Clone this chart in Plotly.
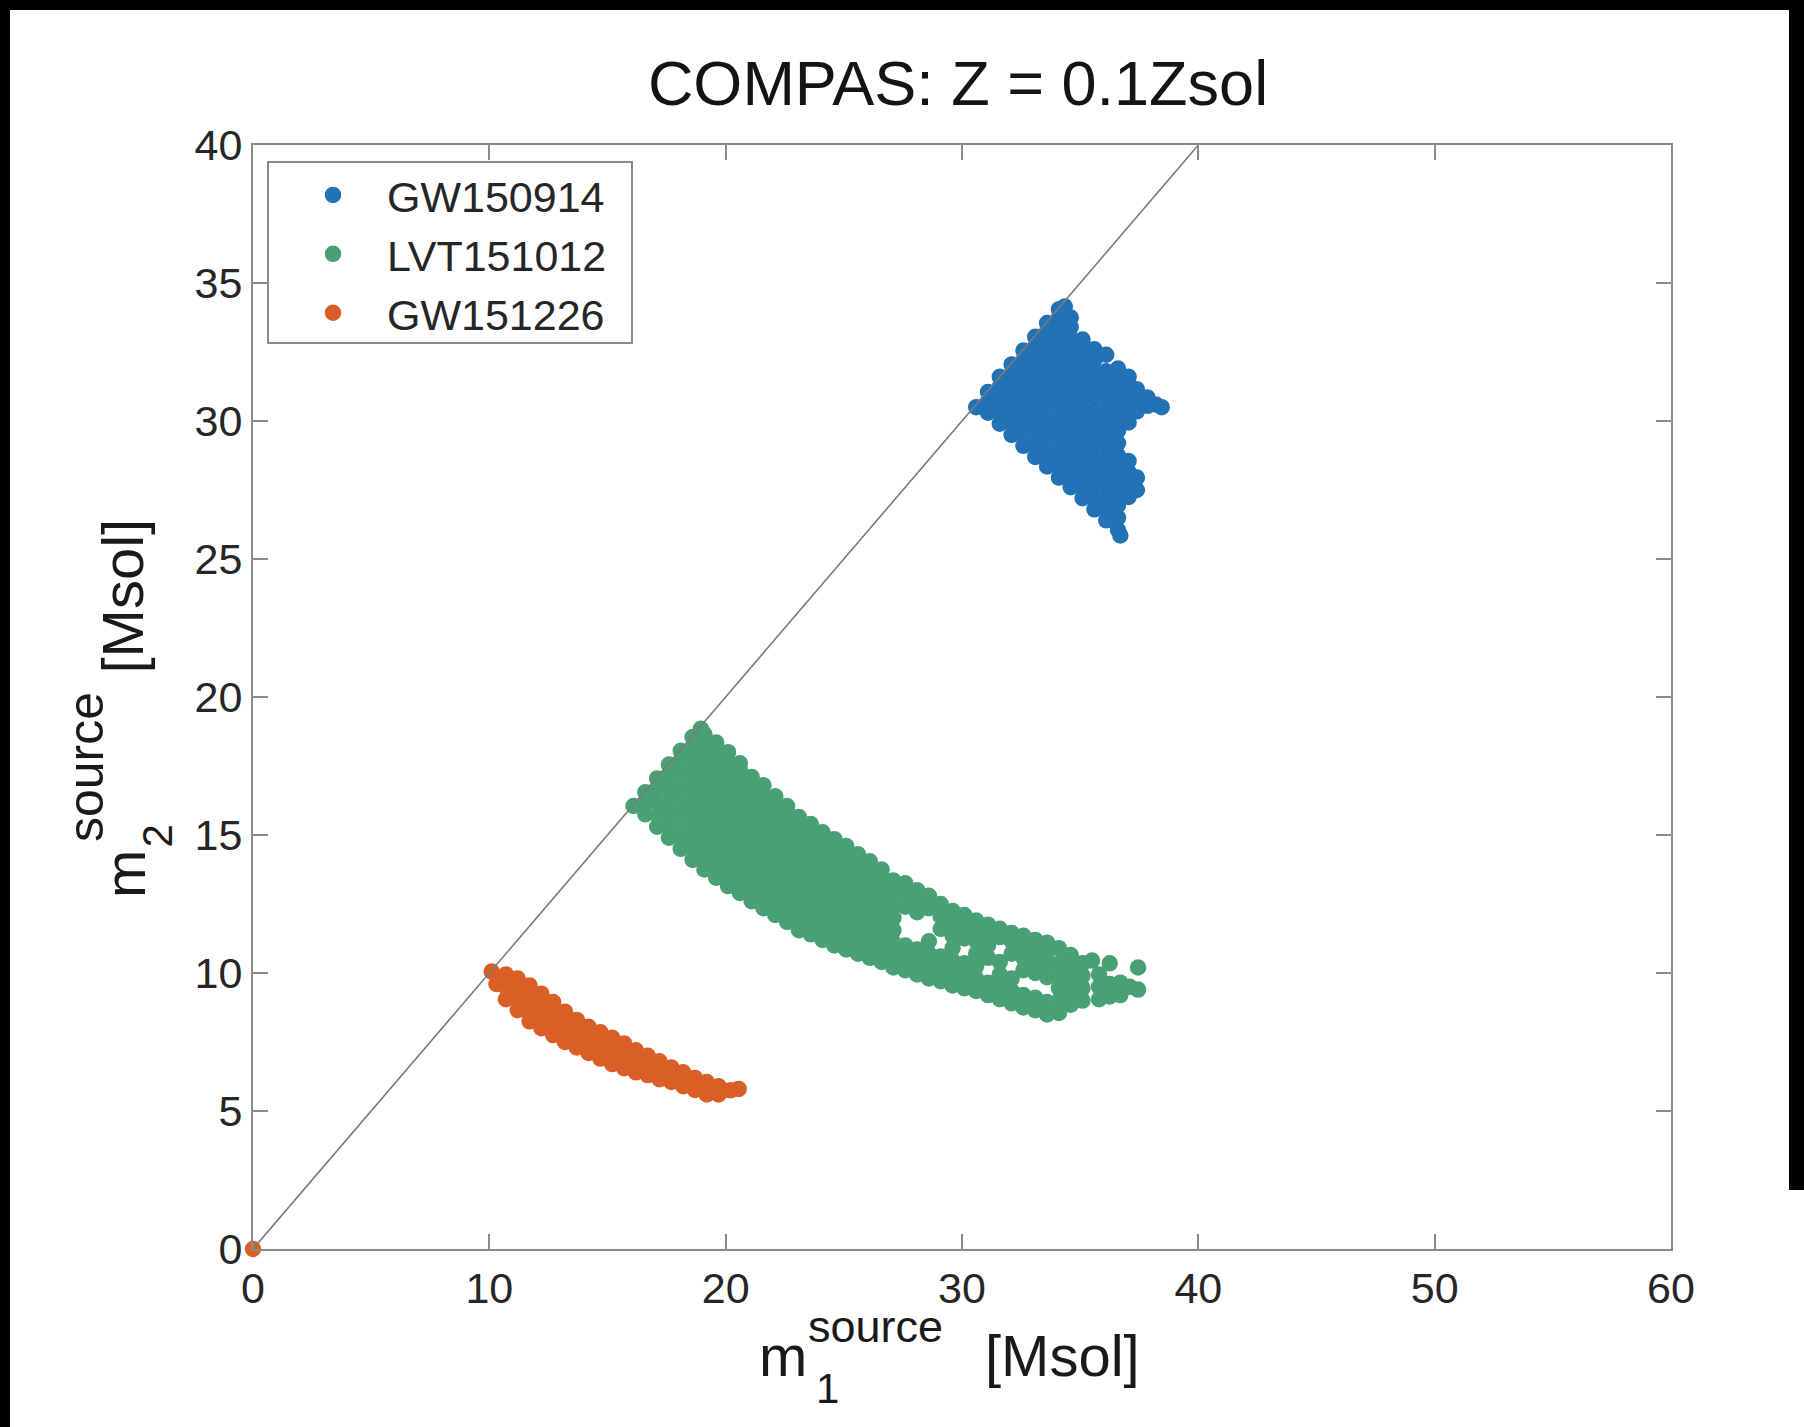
import plotly.graph_objects as go

# ---- data -------------------------------------------------------------
# Each event: columns of (m1, [m2 samples at that m1]) in solar masses
gw150914 = [
    (30.6, [30.5]),
    (31.1, [30.3, 30.7, 31.05]),
    (31.6, [29.9, 30.35, 30.8, 31.25, 31.6]),
    (32.1, [29.5, 29.95, 30.4, 30.85, 31.3, 31.7, 32.05]),
    (32.6, [29.1, 29.55, 30.0, 30.45, 30.9, 31.35, 31.8, 32.2, 32.55]),
    (33.1, [28.7, 29.15, 29.6, 30.05, 30.5, 30.95, 31.4, 31.85, 32.3, 32.7, 33.05]),
    (33.6, [28.35, 28.8, 29.25, 29.7, 30.15, 30.6, 31.05, 31.5, 31.95, 32.4, 32.85, 33.25, 33.55]),
    (34.1, [27.95, 28.4, 28.85, 29.3, 29.75, 30.2, 30.65, 31.1, 31.55, 32.0, 32.45, 32.9, 33.35, 33.75, 34.05]),
    (34.35, [34.15]),
    (34.6, [27.6, 28.05, 28.5, 28.95, 29.4, 29.85, 30.3, 30.75, 31.2, 31.65, 32.1, 32.55, 33.0, 33.4, 33.75]),
    (35.1, [27.2, 27.65, 28.1, 28.55, 29.0, 29.45, 29.9, 30.35, 30.8, 31.25, 31.7, 32.15, 32.6, 32.95]),
    (35.6, [26.8, 27.25, 27.7, 28.15, 28.6, 29.05, 29.5, 29.95, 30.4, 30.85, 31.3, 31.75, 32.2, 32.6]),
    (36.1, [26.4, 26.85, 27.3, 27.75, 28.2, 28.65, 29.1, 29.55, 30.0, 30.45, 30.9, 31.35, 31.8, 32.4]),
    (36.6, [26.05, 26.5, 26.95, 27.4, 27.85, 28.3, 28.75, 29.2, 29.65, 30.1, 30.55, 31.0, 31.45, 31.9]),
    (36.7, [25.85]),
    (37.05, [27.25, 27.7, 28.15, 28.55, 29.95, 30.4, 30.85, 31.3, 31.6]),
    (37.4, [27.5, 27.95, 30.35, 30.8, 31.15]),
    (37.85, [30.55, 30.85]),
    (38.2, [30.6]),
    (38.45, [30.5]),
]

lvt151012 = [
    (16.1, [16.05]),
    (16.6, [15.75, 16.2, 16.55]),
    (17.1, [15.3, 15.75, 16.2, 16.65, 17.05]),
    (17.6, [14.9, 15.35, 15.8, 16.25, 16.7, 17.15, 17.55]),
    (18.1, [14.5, 14.95, 15.4, 15.85, 16.3, 16.75, 17.2, 17.65, 18.05]),
    (18.6, [14.1, 14.55, 15.0, 15.45, 15.9, 16.35, 16.8, 17.25, 17.7, 18.15, 18.55]),
    (18.95, [18.85]),
    (19.1, [13.75, 14.2, 14.65, 15.1, 15.55, 16.0, 16.45, 16.9, 17.35, 17.8, 18.25, 18.65]),
    (19.6, [13.45, 13.9, 14.35, 14.8, 15.25, 15.7, 16.15, 16.6, 17.05, 17.5, 17.95, 18.35]),
    (20.1, [13.15, 13.6, 14.05, 14.5, 14.95, 15.4, 15.85, 16.3, 16.75, 17.2, 17.65, 18.0]),
    (20.6, [12.9, 13.35, 13.8, 14.25, 14.7, 15.15, 15.6, 16.05, 16.5, 16.95, 17.35, 17.6]),
    (21.1, [12.6, 13.05, 13.5, 13.95, 14.4, 14.85, 15.3, 15.75, 16.2, 16.65, 17.1]),
    (21.6, [12.35, 12.8, 13.25, 13.7, 14.15, 14.6, 15.05, 15.5, 15.95, 16.4, 16.8]),
    (22.1, [12.1, 12.55, 13.0, 13.45, 13.9, 14.35, 14.8, 15.25, 15.7, 16.15, 16.4]),
    (22.6, [11.85, 12.3, 12.75, 13.2, 13.65, 14.1, 14.55, 15.0, 15.45, 15.9, 16.05]),
    (23.1, [11.55, 12.0, 12.45, 12.9, 13.35, 13.8, 14.25, 14.7, 15.15, 15.65]),
    (23.6, [11.4, 11.85, 12.3, 12.75, 13.2, 13.65, 14.1, 14.55, 15.0, 15.4]),
    (24.1, [11.2, 11.65, 12.1, 12.55, 13.0, 13.45, 13.9, 14.35, 14.8, 15.1]),
    (24.6, [11.0, 11.45, 11.9, 12.35, 12.8, 13.25, 13.7, 14.15, 14.55, 14.85]),
    (25.1, [10.85, 11.3, 11.75, 12.2, 12.65, 13.1, 13.55, 14.0, 14.4, 14.6]),
    (25.6, [10.7, 11.15, 11.6, 12.05, 12.5, 12.95, 13.4, 13.85, 14.3]),
    (26.1, [10.55, 11.0, 11.45, 11.9, 12.35, 12.8, 13.25, 13.7, 14.05]),
    (26.6, [10.4, 10.85, 11.3, 11.75, 12.2, 12.65, 13.1, 13.5, 13.75]),
    (27.1, [10.2, 10.65, 11.1, 11.55, 12.0, 12.45, 12.9, 13.35]),
    (27.6, [10.1, 10.55, 11.0, 12.4, 12.85, 13.25]),
    (28.1, [9.95, 10.4, 10.85, 12.2, 12.6, 13.0]),
    (28.6, [9.8, 10.25, 10.7, 11.15, 12.35, 12.8]),
    (29.1, [9.7, 10.15, 10.6, 11.6, 12.05, 12.5]),
    (29.6, [9.55, 10.0, 10.45, 10.9, 11.35, 11.8, 12.25]),
    (30.1, [9.45, 9.9, 10.35, 11.25, 11.7, 12.1]),
    (30.6, [9.35, 9.8, 10.25, 10.7, 11.15, 11.6, 11.9]),
    (31.1, [9.2, 9.65, 10.55, 11.0, 11.45, 11.75]),
    (31.6, [9.05, 9.5, 9.95, 10.4, 11.3, 11.6]),
    (32.1, [8.9, 9.35, 9.8, 10.7, 11.15, 11.45]),
    (32.6, [8.75, 9.2, 10.1, 10.55, 11.0, 11.35]),
    (33.1, [8.65, 9.1, 10.0, 10.45, 10.9, 11.2]),
    (33.6, [8.5, 8.95, 9.85, 10.3, 10.75, 11.1]),
    (34.1, [8.55, 9.0, 9.45, 9.9, 10.35, 10.9]),
    (34.6, [8.85, 9.3, 9.75, 10.2, 10.65]),
    (35.1, [9.0, 9.45, 9.9, 10.35]),
    (35.5, [10.45]),
    (35.8, [9.05, 9.5, 9.95]),
    (36.25, [9.15, 9.6, 10.35]),
    (36.7, [9.2, 9.65]),
    (37.1, [9.5]),
    (37.45, [9.4, 10.2]),
]

gw151226 = [
    (0.0, [0.0]),
    (10.1, [10.05]),
    (10.3, [9.6]),
    (10.7, [9.05, 9.5, 9.95]),
    (11.2, [8.65, 9.05, 9.45, 9.8]),
    (11.7, [8.25, 8.7, 9.15, 9.55]),
    (12.2, [8.0, 8.45, 8.85, 9.25]),
    (12.7, [7.75, 8.15, 8.55, 8.95]),
    (13.2, [7.5, 7.9, 8.3, 8.6]),
    (13.7, [7.3, 7.7, 8.05, 8.3]),
    (14.2, [7.1, 7.45, 7.8, 8.05]),
    (14.7, [6.9, 7.25, 7.6, 7.85]),
    (15.2, [6.7, 7.05, 7.35, 7.65]),
    (15.7, [6.55, 6.85, 7.15, 7.45]),
    (16.2, [6.4, 6.7, 7.0, 7.2]),
    (16.7, [6.3, 6.55, 6.8, 7.0]),
    (17.2, [6.15, 6.45, 6.8]),
    (17.7, [6.05, 6.3, 6.58]),
    (18.2, [5.9, 6.15, 6.4]),
    (18.7, [5.76, 6.0, 6.2]),
    (19.2, [5.6, 5.82, 6.05]),
    (19.7, [5.6, 5.9]),
    (20.2, [5.75]),
    (20.55, [5.8]),
]

# equal-mass line m1 = m2
equal_mass = [0, 40]

x_ticks = [0, 10, 20, 30, 40, 50, 60]
y_ticks = [0, 5, 10, 15, 20, 25, 30, 35, 40]

events = [
    ("GW150914", gw150914, "#2372b5"),
    ("LVT151012", lvt151012, "#4aa075"),
    ("GW151226", gw151226, "#d95f27"),
]

# ---- layout geometry (pixels) -------------------------------------------
W, H = 1804, 1427
PL, PR, PT, PB = 253, 1671, 145, 1249
FONT = "Liberation Sans, Arial, Helvetica, sans-serif"
GREY = "#8a8a8a"


def px(X):
    return (X - PL) / (PR - PL)


def py(Y):
    return (PB - Y) / (PB - PT)


def unpack(cols):
    m1, m2 = [], []
    for x, ys in cols:
        for y in ys:
            m1.append(x)
            m2.append(y)
    return m1, m2


fig = go.Figure()

for name, cols, color in events:
    m1, m2 = unpack(cols)
    fig.add_trace(go.Scatter(
        x=m1, y=m2, mode="markers", name=name, cliponaxis=False,
        marker=dict(size=15, color=color, line=dict(color=color, width=1.5)),
    ))

fig.add_trace(go.Scatter(
    x=equal_mass, y=equal_mass, mode="lines", showlegend=False,
    line=dict(color="#7a7a7a", width=1.6), hoverinfo="skip",
))

axis_common = dict(
    showgrid=False, zeroline=False, showline=True, linecolor=GREY, linewidth=2,
    mirror="ticks", ticks="inside", ticklen=15, tickwidth=1.5, tickcolor=GREY,
    tickfont=dict(family=FONT, size=43, color="#262626"),
)

fig.update_xaxes(range=[0, 60], tickmode="array", tickvals=x_ticks, **axis_common)
fig.update_yaxes(range=[0, 40], tickmode="array", tickvals=y_ticks, **axis_common)

# axis titles built from pieces so the super/subscripts stack
lab = dict(family=FONT, color="#1a1a1a")
annotations = [
    # x label: m_1^source [Msol]
    dict(text="m", x=px(757), y=py(1355), xanchor="left", yanchor="middle", font=dict(size=58, **lab)),
    dict(text="source", x=px(806), y=py(1326), xanchor="left", yanchor="middle", font=dict(size=45, **lab)),
    dict(text="1", x=px(814), y=py(1388), xanchor="left", yanchor="middle", font=dict(size=42, **lab)),
    dict(text="[Msol]", x=px(983), y=py(1355), xanchor="left", yanchor="middle", font=dict(size=58, **lab)),
    # y label: m_2^source [Msol]
    dict(text="m", x=px(124), y=py(900), xanchor="center", yanchor="bottom", textangle=-90, font=dict(size=58, **lab)),
    dict(text="source", x=px(86), y=py(844), xanchor="center", yanchor="bottom", textangle=-90, font=dict(size=50, **lab)),
    dict(text="2", x=px(157), y=py(850), xanchor="center", yanchor="bottom", textangle=-90, font=dict(size=42, **lab)),
    dict(text="[Msol]", x=px(122), y=py(676), xanchor="center", yanchor="bottom", textangle=-90, font=dict(size=58, **lab)),
]
for a in annotations:
    a.update(xref="paper", yref="paper", showarrow=False)

shapes = [
    # legend frame
    dict(type="rect", xref="paper", yref="paper", x0=px(268), x1=px(632), y0=py(343), y1=py(162),
         line=dict(color=GREY, width=2), fillcolor="rgba(0,0,0,0)", layer="above"),
    # dark frame around the page
    dict(type="rect", xref="paper", yref="paper", x0=px(0), x1=px(W), y0=py(10), y1=py(0),
         line=dict(width=0), fillcolor="black", layer="above"),
    dict(type="rect", xref="paper", yref="paper", x0=px(0), x1=px(10), y0=py(H), y1=py(0),
         line=dict(width=0), fillcolor="black", layer="above"),
    dict(type="rect", xref="paper", yref="paper", x0=px(1789), x1=px(W), y0=py(1190), y1=py(0),
         line=dict(width=0), fillcolor="black", layer="above"),
]

fig.update_layout(
    width=W, height=H,
    margin=dict(l=PL, r=W - PR, t=PT, b=H - PB, autoexpand=False),
    paper_bgcolor="white", plot_bgcolor="white",
    title=dict(text="COMPAS: Z = 0.1Zsol", x=px(958), xref="paper", xanchor="center",
               y=1 - 83 / H, yref="container", yanchor="middle",
               font=dict(family=FONT, size=63, color="#141414")),
    legend=dict(x=px(279), y=py(160.5), xanchor="left", yanchor="top",
                itemwidth=98, borderwidth=0, bgcolor="rgba(0,0,0,0)",
                font=dict(family=FONT, size=43, color="#262626")),
    annotations=annotations,
    shapes=shapes,
    showlegend=True,
)

fig.write_html("out.html")
